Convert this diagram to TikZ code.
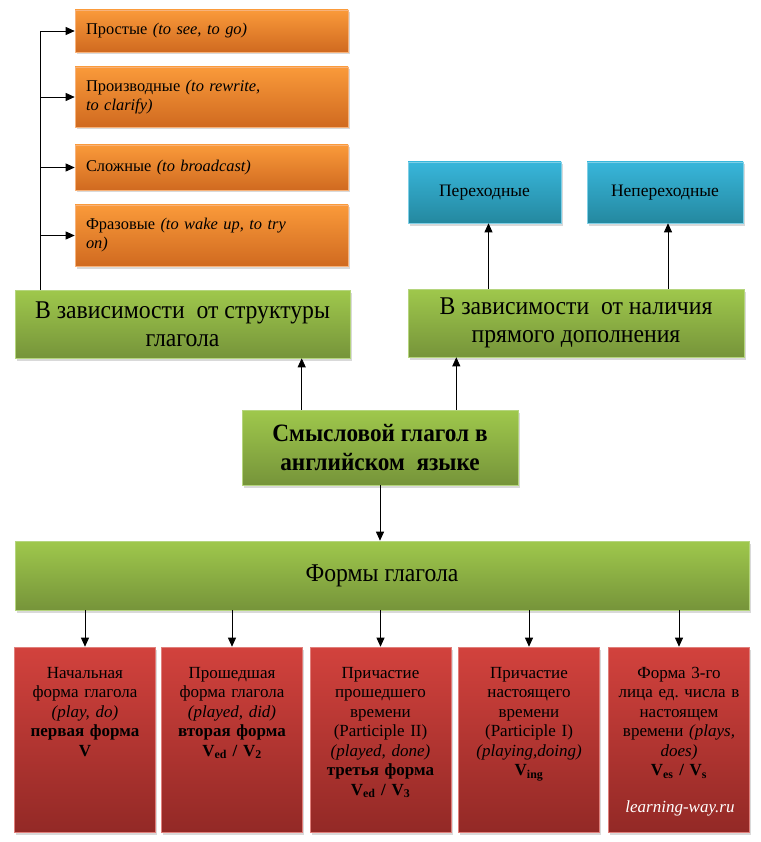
\documentclass[tikz,border=0pt]{standalone}
\usepackage{fontspec}
\setmainfont{Liberation Serif}
\newfontfamily\narrowserif[FakeStretch=0.93]{Liberation Serif}
\usetikzlibrary{positioning,shadows,arrows.meta}
\frenchspacing

\definecolor{orangetop}{HTML}{FA9A3A}
\definecolor{orangebot}{HTML}{D06A20}
\definecolor{orangeline}{HTML}{F7B27A}
\definecolor{greentop}{HTML}{9FC84C}
\definecolor{greenbot}{HTML}{76943A}
\definecolor{greenline}{HTML}{B5D57E}
\definecolor{bluetop}{HTML}{38B6DB}
\definecolor{bluebot}{HTML}{24889F}
\definecolor{blueline}{HTML}{7FCFE6}
\definecolor{redtop}{HTML}{D2423D}
\definecolor{redbot}{HTML}{932926}
\definecolor{redline}{HTML}{E07F7B}

\tikzset{
  basebox/.style={rectangle, line width=0.6pt, inner sep=0pt,
    drop shadow={shadow xshift=1.5pt, shadow yshift=-2.5pt, opacity=0.3}},
  orangebox/.style={basebox, draw=orangeline, top color=orangetop, bottom color=orangebot,
    text width=251pt, inner xsep=11pt, align=left, font=\fontsize{16.4}{19}\selectfont},
  bluebox/.style={basebox, draw=blueline, top color=bluetop, bottom color=bluebot,
    minimum height=61pt, font=\fontsize{17.5}{20}\selectfont},
  greenbox/.style={basebox, draw=greenline, top color=greentop, bottom color=greenbot,
    align=center, font=\narrowserif\fontsize{25.5}{28}\selectfont},
  redbox/.style={basebox, draw=redline, top color=redtop, bottom color=redbot,
    minimum width=141pt, minimum height=185pt},
  redtext/.style={align=center, text width=136pt, inner sep=0pt,
    font=\fontsize{17}{19.5}\selectfont},
  arr/.style={-{Triangle[length=9pt,width=8pt]}, line width=0.8pt},
}

\begin{document}
\begin{tikzpicture}[x=1pt, y=-1pt]
    \useasboundingbox (0,0) rectangle (760,842);

    % Structure of the verb
    \node[orangebox, minimum height=42pt] (o1) at (211.5,31) {Простые \textit{(to see, to go)}};
    \node[orangebox, minimum height=60pt] (o2) at (211.5,97) {Производные \textit{(to rewrite,}\\\textit{to clarify)}};
    \node[orangebox, minimum height=45pt] (o3) at (211.5,167.5) {Сложные \textit{(to broadcast)}};
    \node[orangebox, minimum height=61pt] (o4) at (211.5,235.5) {Фразовые \textit{(to wake up, to try}\\\textit{on)}};

    % Direct object
    \node[bluebox, minimum width=153pt] (b1) at (484.5,192.5) {Переходные};
    \node[bluebox, minimum width=156pt] (b2) at (665,192.5) {Непереходные};

    % Middle row
    \node[greenbox, minimum width=335pt, minimum height=68pt] (s1) at (182.5,324) {В зависимости~ от структуры\\глагола};
    \node[greenbox, minimum width=336pt, minimum height=68pt] (s2) at (576,323) {В зависимости~ от наличия\\прямого дополнения};
    \node[greenbox, minimum width=276pt, minimum height=75pt, font=\narrowserif\bfseries\fontsize{25}{29}\selectfont] (core) at (380,447.5) {Смысловой глагол в\\английском~ языке};
    \node[greenbox, minimum width=734pt, minimum height=69pt] (forms) at (382,575.5) {Формы глагола};

    % Forms of the verb
    \node[redbox] (r1) at (85,739.5) {};
    \node[redbox] (r2) at (232,739.5) {};
    \node[redbox] (r3) at (380.5,739.5) {};
    \node[redbox] (r4) at (529,739.5) {};
    \node[redbox] (r5) at (679,739.5) {};

    \node[redtext, below=20pt of r1.north] (t1) {Начальная\\форма глагола\\\textit{(play, do)}\\\textbf{первая форма}\\\textbf{V}};
    \node[redtext, below=20pt of r2.north] (t2) {Прошедшая\\форма глагола\\\textit{(played, did)}\\\textbf{вторая форма}\\\textbf{V\textsubscript{ed} / V\textsubscript{2}}};
    \node[redtext, below=20pt of r3.north] (t3) {Причастие\\прошедшего\\времени\\(Participle II)\\\textit{(played, done)}\\\textbf{третья форма}\\\textbf{V\textsubscript{ed} / V\textsubscript{3}}};
    \node[redtext, below=20pt of r4.north] (t4) {Причастие\\настоящего\\времени\\(Participle I)\\\textit{(playing,doing)}\\\textbf{V\textsubscript{ing}}};
    \node[redtext, below=20pt of r5.north] (t5) {Форма 3-го\\лица ед. числа в\\настоящем\\времени \textit{(plays,}\\\textit{does)}\\\textbf{V\textsubscript{es} / V\textsubscript{s}}};
    \node[text=white, font=\itshape\fontsize{17}{20}\selectfont] (site) at (680,808) {learning-way.ru};

    % Tree to the left
    \coordinate (trunk) at (40,0);
    \draw[line width=0.8pt] (trunk |- s1.north) -- (trunk |- o1.west);
    \draw[arr] (trunk |- o1.west) -- (o1.west);
    \draw[arr] (trunk |- o2.west) -- (o2.west);
    \draw[arr] (trunk |- o3.west) -- (o3.west);
    \draw[arr] (trunk |- o4.west) -- (o4.west);

    % Up to the blue boxes
    \draw[arr] ([xshift=4pt]b1.south |- s2.north) -- ([xshift=4pt]b1.south);
    \draw[arr] ([xshift=3pt]b2.south |- s2.north) -- ([xshift=3pt]b2.south);

    % From the main box
    \coordinate (c1) at ([xshift=60pt]core.north west);
    \coordinate (c2) at ([xshift=-62pt]core.north east);
    \draw[arr] (c1) -- (c1 |- s1.south);
    \draw[arr] (c2) -- (c2 |- s2.south);
    \draw[arr] (core.south) -- (core.south |- forms.north);

    % Down to the forms
    \draw[arr] (forms.south -| r1.north) -- (r1.north);
    \draw[arr] (forms.south -| r2.north) -- (r2.north);
    \draw[arr] (forms.south -| r3.north) -- (r3.north);
    \draw[arr] (forms.south -| r4.north) -- (r4.north);
    \draw[arr] (forms.south -| r5.north) -- (r5.north);
\end{tikzpicture}
\end{document}
